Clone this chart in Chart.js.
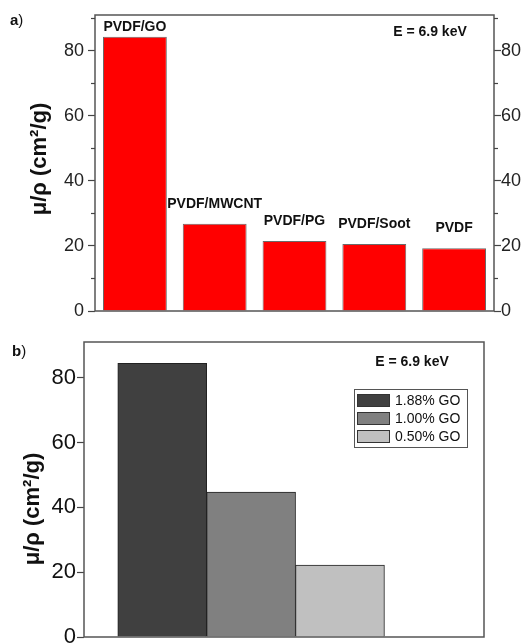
<!DOCTYPE html>
<html>
<head>
<meta charset="utf-8">
<script src="https://cdn.jsdelivr.net/npm/chart.js@4.4.1/dist/chart.umd.min.js"></script>
<style>
    body { margin: 0; background: #fff; width: 525px; height: 643px; overflow: hidden; position: relative;
           font-family: Arial, "Liberation Sans", sans-serif; }
    #wrapA { position: absolute; left: 0; top: 0; width: 525px; height: 330px; }
    #wrapB { position: absolute; left: 0; top: 330px; width: 525px; height: 313px; }
    .panel { position: absolute; font-size: 15px; color: #111; }
</style>
</head>
<body>
<div id="wrapA"><canvas id="chartA"></canvas></div>
<div id="wrapB"><canvas id="chartB"></canvas></div>
<div class="panel" style="left:10px; top:11px;"><b>a</b>)</div>
<div class="panel" style="left:12px; top:342px;"><b>b</b>)</div>
<script>
// ============= data =====================
const materials = ['PVDF/GO', 'PVDF/MWCNT', 'PVDF/PG', 'PVDF/Soot', 'PVDF'];
const muRhoA = [84.3, 26.8, 21.5, 20.6, 19.3];
const ticksA = [0, 20, 40, 60, 80];
const minorTicksA = [10, 30, 50, 70, 90];

const goLevels = ['1.88% GO', '1.00% GO', '0.50% GO'];
const muRhoB = [84.4, 44.7, 22.2];
const ticksB = [0, 20, 40, 60, 80];

const energyText = 'E = 6.9 keV';
const yTitle = 'μ/ρ (cm²/g)';
// ============= end of data ==============

document.addEventListener('DOMContentLoaded', function () {
    const FONT = 'Arial, "Liberation Sans", sans-serif';
    const greys = ['#404040', '#808080', '#c0c0c0'];

    // helpers shared by both panels
    function fixWidth(w) {
        return function (s) { s.width = w; s.paddingTop = 0; s.paddingBottom = 0; };
    }
    function setTicks(list) {
        return function (s) { s.ticks = list.map(v => ({ value: v })); };
    }

    const framePlugin = {
        id: 'frame',
        afterDraw(chart) {
            const a = chart.chartArea, ctx = chart.ctx;
            ctx.save();
            ctx.strokeStyle = '#555';
            ctx.lineWidth = 1.5;
            ctx.strokeRect(a.left, a.top, a.right - a.left, a.bottom - a.top);
            ctx.restore();
        }
    };

    function titlePlugin(x, y, size) {
        return {
            id: 'ytitle',
            afterDraw(chart) {
                const ctx = chart.ctx;
                ctx.save();
                ctx.translate(x, y);
                ctx.rotate(-Math.PI / 2);
                ctx.font = 'bold ' + size + 'px ' + FONT;
                ctx.fillStyle = '#111';
                ctx.textAlign = 'center';
                ctx.textBaseline = 'middle';
                ctx.fillText(yTitle, 0, 0);
                ctx.restore();
            }
        };
    }

    function energyPlugin(dx, dy) {
        return {
            id: 'energy',
            afterDraw(chart) {
                const a = chart.chartArea, ctx = chart.ctx;
                ctx.save();
                ctx.font = 'bold 14px ' + FONT;
                ctx.fillStyle = '#111';
                ctx.textAlign = 'center';
                ctx.textBaseline = 'middle';
                ctx.fillText(energyText, a.right - dx, a.top + dy);
                ctx.restore();
            }
        };
    }

// ============= panel a =====================
    const minorPlugin = {
        id: 'minor',
        afterDraw(chart) {
            const ctx = chart.ctx;
            ctx.save();
            ctx.strokeStyle = '#444';
            ctx.lineWidth = 1.2;
            ['y', 'y2'].forEach(function (id) {
                const s = chart.scales[id];
                const x0 = id === 'y' ? s.right : s.left;
                const dir = id === 'y' ? -1 : 1;
                minorTicksA.forEach(function (v) {
                    const py = Math.round(s.getPixelForValue(v)) + 0.5;
                    ctx.beginPath();
                    ctx.moveTo(x0, py);
                    ctx.lineTo(x0 + dir * 4, py);
                    ctx.stroke();
                });
            });
            ctx.restore();
        }
    };

    const barLabelPlugin = {
        id: 'barLabels',
        afterDatasetsDraw(chart) {
            const ctx = chart.ctx, a = chart.chartArea;
            const meta = chart.getDatasetMeta(0);
            ctx.save();
            ctx.font = 'bold 14px ' + FONT;
            ctx.fillStyle = '#111';
            ctx.textAlign = 'center';
            ctx.textBaseline = 'middle';
            meta.data.forEach(function (bar, i) {
                const y = Math.max(bar.y - 20, a.top + 12);
                ctx.fillText(materials[i], bar.x, y);
            });
            ctx.restore();
        }
    };

    const axisA = {
        min: 0, max: 91,
        afterBuildTicks: setTicks(ticksA),
        grid: { display: true, drawOnChartArea: false, drawTicks: true, tickLength: 7, tickColor: '#444', tickWidth: 1.2 },
        border: { display: false },
        ticks: { font: { family: FONT, size: 18 }, color: '#222', padding: 4 }
    };

    new Chart(document.querySelector('#chartA'), {
        type: 'bar',
        data: {
            labels: materials,
            datasets: [{
                label: 'μ/ρ',
                data: muRhoA,
                backgroundColor: '#ff0000',
                borderColor: '#6a6a6a',
                borderWidth: 1,
                barPercentage: 0.8,
                categoryPercentage: 1
            }]
        },
        options: {
            responsive: true,
            maintainAspectRatio: false,
            animation: false,
            layout: { padding: { top: 15, bottom: 19, left: 0, right: 0 } },
            plugins: { legend: { display: false }, tooltip: { enabled: false } },
            scales: {
                x: { display: false },
                y: Object.assign({}, axisA, { position: 'left', afterFit: fixWidth(95) }),
                y2: Object.assign({}, axisA, {
                    position: 'right', afterFit: fixWidth(31),
                    ticks: Object.assign({}, axisA.ticks, { padding: 0 })
                })
            }
        },
        plugins: [framePlugin, minorPlugin, barLabelPlugin, titlePlugin(40, 159, 22), energyPlugin(64, 17)]
    });
// ============= end of panel a ==============

// ============= panel b =====================
    const legendPlugin = {
        id: 'boxLegend',
        afterDraw(chart) {
            const ctx = chart.ctx, a = chart.chartArea;
            const bx = a.right - 130, by = a.top + 47, bw = 113, bh = 58;
            ctx.save();
            ctx.fillStyle = '#fff';
            ctx.fillRect(bx, by, bw, bh);
            ctx.strokeStyle = '#555';
            ctx.lineWidth = 1;
            ctx.strokeRect(bx + 0.5, by + 0.5, bw, bh);
            ctx.font = '14px ' + FONT;
            ctx.textBaseline = 'middle';
            chart.data.datasets.forEach(function (ds, i) {
                const cy = by + 11 + i * 18;
                ctx.fillStyle = ds.backgroundColor;
                ctx.fillRect(bx + 3, cy - 6, 33, 13);
                ctx.strokeStyle = '#333';
                ctx.strokeRect(bx + 3.5, cy - 5.5, 32, 12);
                ctx.fillStyle = '#111';
                ctx.fillText(ds.label, bx + 41, cy + 1);
            });
            ctx.restore();
        }
    };

    new Chart(document.querySelector('#chartB'), {
        type: 'bar',
        data: {
            datasets: goLevels.map(function (name, i) {
                return {
                    label: name,
                    data: [{ x: i, y: muRhoB[i] }],
                    backgroundColor: greys[i],
                    borderColor: '#222',
                    borderWidth: 1,
                    grouped: false,
                    barPercentage: 1,
                    categoryPercentage: 1
                };
            })
        },
        options: {
            responsive: true,
            maintainAspectRatio: false,
            animation: false,
            layout: { padding: { top: 12, bottom: 6, left: 0, right: 41 } },
            plugins: { legend: { display: false }, tooltip: { enabled: false } },
            scales: {
                x: {
                    type: 'linear', display: false, offset: false, bounds: 'data',
                    min: -0.88, max: 3.62,
                    afterBuildTicks: setTicks(goLevels.map((n, i) => i))
                },
                y: {
                    position: 'left', min: 0, max: 91,
                    afterBuildTicks: setTicks(ticksB),
                    afterFit: fixWidth(84),
                    grid: { display: true, drawOnChartArea: false, drawTicks: true, tickLength: 7, tickColor: '#444', tickWidth: 1.2 },
                    border: { display: false },
                    ticks: { font: { family: FONT, size: 22 }, color: '#111', padding: 1 }
                }
            }
        },
        plugins: [framePlugin, legendPlugin, titlePlugin(33, 179, 22), energyPlugin(72, 20)]
    });
// ============= end of panel b ==============
});
</script>
</body>
</html>
